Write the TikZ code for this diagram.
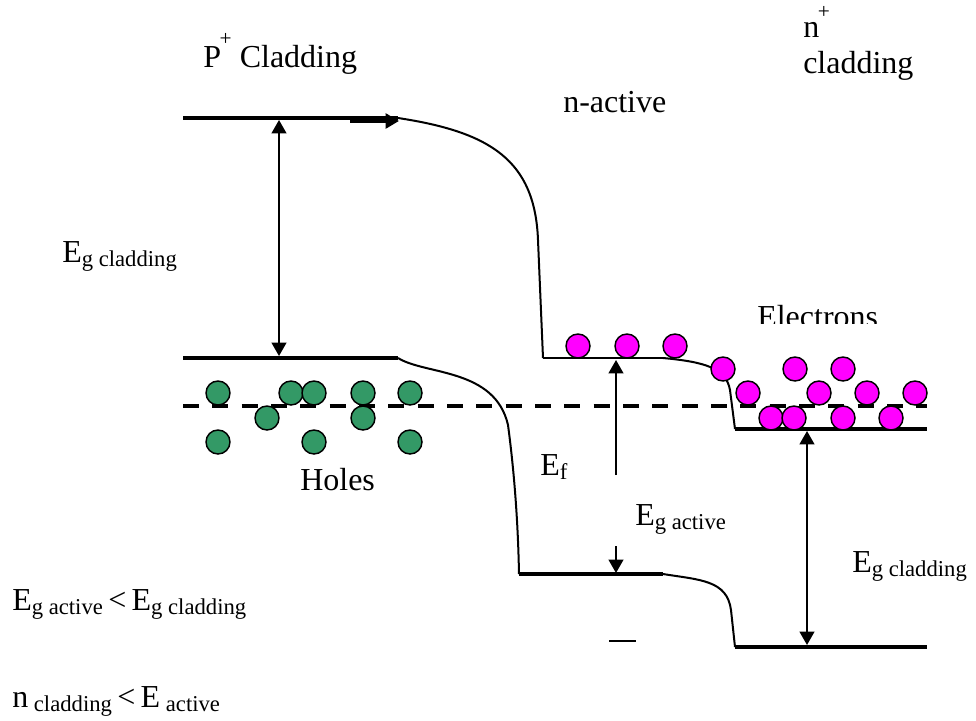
\documentclass[tikz,border=0pt]{standalone}
\usepackage{fontspec}
\setmainfont{Liberation Serif}
\usetikzlibrary{arrows.meta}
\definecolor{holegreen}{RGB}{51,153,102}
\definecolor{elecmag}{RGB}{255,0,255}
\newcommand\lsub[1]{\raisebox{-3.5pt}{\fontsize{17}{17}\selectfont #1}}
\newcommand\lsup[2]{\kern-1pt\raisebox{#1}{\fontsize{16}{16}\selectfont #2}}
\newcommand\ltgap{\hspace{4pt}}
\begin{document}
\begin{tikzpicture}[x=0.75pt,y=-0.75pt,
  lbl/.style={anchor=base west,inner sep=0pt,font=\fontsize{24}{28}\selectfont},
  band/.style={line width=2.5pt},
  bendline/.style={line width=1.5pt},
  tip/.tip={Triangle[width=11pt,length=10pt]},
  dblarrow/.style={line width=1.5pt,tip-tip},
  sglarrow/.style={line width=1.5pt,-tip},
  hole/.style={circle,draw=black,line width=1.1pt,fill=holegreen,minimum size=18pt,inner sep=0pt},
  elec/.style={circle,draw=black,line width=1.1pt,fill=elecmag,minimum size=18pt,inner sep=0pt},
  fermi/.style={line width=2.5pt,dash pattern=on 12pt off 10pt}]
\useasboundingbox (0,0) rectangle (976,721);

% coordinates
\coordinate (pcL) at (183,118);
\coordinate (pcR) at (398,118);
\coordinate (pvL) at (183,358);
\coordinate (pvR) at (398,358);
\coordinate (acL) at (543,358);
\coordinate (acR) at (663,358);
\coordinate (avL) at (519,574);
\coordinate (avR) at (663,574);
\coordinate (ncL) at (735,429);
\coordinate (ncR) at (927,429);
\coordinate (nvL) at (735,647);
\coordinate (nvR) at (927,647);
\coordinate (fL) at (183,406);
\coordinate (fR) at (927,406);

% band lines
\draw[band] (pcL) -- (pcR);
\draw[band] (pvL) -- (pvR);
\draw[bendline] (acL) -- (acR);
\draw[band] (avL) -- (avR);
\draw[band] (ncL) -- (ncR);
\draw[band] (nvL) -- (nvR);

% bends
\draw[bendline] (pcR) .. controls (490,132) and (535,160) .. (538,240) -- (acL);
\draw[bendline] (pvR) .. controls (425,375) and (495,368) .. (508,425)
  .. controls (514,470) and (518,520) .. (avL);
\draw[bendline] (acR) .. controls (705,362) and (726,368) .. (730,390) -- (ncL);
\draw[bendline] (avR) .. controls (700,580) and (727,580) .. (731,610) -- (nvL);

% arrows
\coordinate (ta1) at (350,121);
\coordinate (ta2) at (399,121);
\draw[line width=2.5pt,-{Triangle[width=11pt,length=10pt]}] (ta1) -- (ta2);
\coordinate (la1) at (279,120);
\coordinate (la2) at (279,356);
\draw[dblarrow] (la1) -- (la2);
\coordinate (ef1) at (616,475);
\coordinate (ef2) at (616,360);
\draw[sglarrow] (ef1) -- (ef2);
\coordinate (ga1) at (616,546);
\coordinate (ga2) at (616,573);
\draw[sglarrow] (ga1) -- (ga2);
\coordinate (ra1) at (807,431);
\coordinate (ra2) at (807,645);
\draw[dblarrow] (ra1) -- (ra2);

% small dash
\coordinate (d1) at (609,641);
\coordinate (d2) at (636,641);
\draw[line width=1.5pt] (d1) -- (d2);

% Fermi level
\draw[fermi] (fL) -- (fR);

% holes
\node[hole] (h1) at (218,393) {};
\node[hole] (h2) at (291,393) {};
\node[hole] (h3) at (314,393) {};
\node[hole] (h4) at (363,393) {};
\node[hole] (h5) at (410,393) {};
\node[hole] (h6) at (267,418) {};
\node[hole] (h7) at (363,418) {};
\node[hole] (h8) at (218,442) {};
\node[hole] (h9) at (314,442) {};
\node[hole] (h10) at (410,442) {};

% electrons
\node[elec] (e1) at (578,346) {};
\node[elec] (e2) at (627,346) {};
\node[elec] (e3) at (675,346) {};
\node[elec] (e4) at (723,369) {};
\node[elec] (e5) at (748,393) {};
\node[elec] (e6) at (795,369) {};
\node[elec] (e7) at (843,369) {};
\node[elec] (e8) at (819,393) {};
\node[elec] (e9) at (867,393) {};
\node[elec] (e10) at (915,393) {};
\node[elec] (e11) at (771,418) {};
\node[elec] (e12) at (794,418) {};
\node[elec] (e13) at (843,418) {};
\node[elec] (e14) at (891,418) {};

% labels
\node[lbl] (tP) at (203,67) {P\lsup{16pt}{+} Cladding};
\node[lbl] (tNa) at (563,112) {n-active};
\node[lbl] (tNp) at (803,37) {n\lsup{14pt}{+}};
\node[lbl] (tNc) at (803,73) {cladding};
\node[lbl] (tEgl) at (62,262) {E\lsub{g cladding}};
\node[lbl] (tHoles) at (300,490) {Holes};
\begin{scope}
\clip (700,290) rectangle (976,323);
\node[lbl] (tEl) at (757,327) {Electrons};
\end{scope}
\node[lbl] (tEf) at (540,475) {E\lsub{f}};
\node[lbl] (tEga) at (635,525) {E\lsub{g active}};
\node[lbl] (tEgr) at (852,572) {E\lsub{g cladding}};
\node[lbl] (tF1) at (12,610) {E\lsub{g active}\ltgap<\ltgap E\lsub{g cladding}};
\node[lbl] (tF2) at (12,707) {n\lsub{ cladding}\ltgap<\ltgap E\lsub{ active}};
\end{tikzpicture}
\end{document}
